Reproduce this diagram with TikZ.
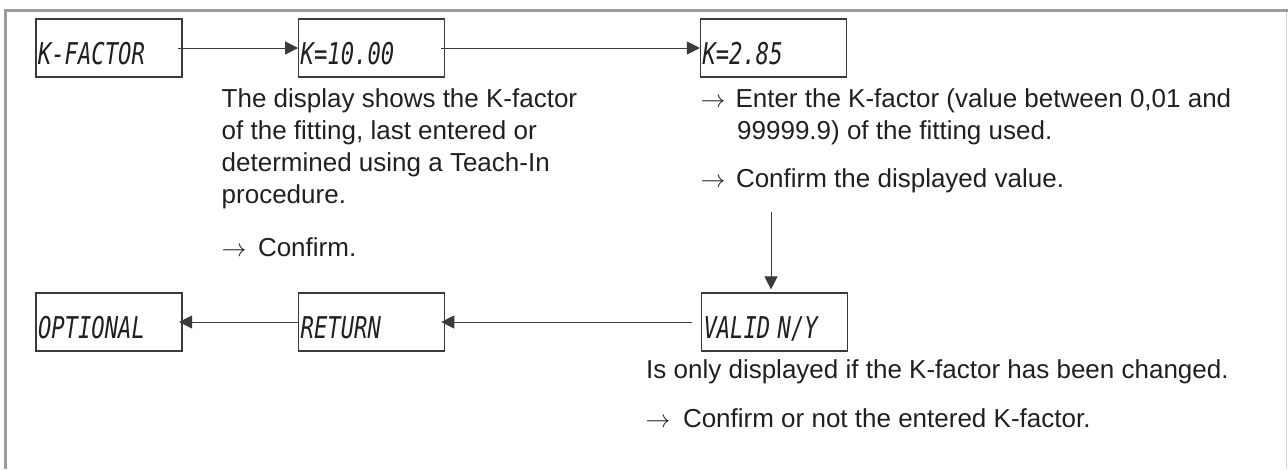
\documentclass[tikz,border=0pt]{standalone}
\usepackage{fontspec}
\setmainfont{Liberation Sans}
\newfontfamily\lcdfam{DejaVu Sans Mono}
\usetikzlibrary{arrows.meta}
\definecolor{txt}{HTML}{231F20}
\definecolor{boxc}{HTML}{3A3A3A}
\definecolor{framec}{HTML}{9C9C9C}
\definecolor{framer}{HTML}{D2D2D2}
\newcommand\lcdfont{\fontsize{30}{30}\selectfont\lcdfam\itshape}
\newcommand\lcd[1]{\scalebox{0.74}[1]{#1}}
\newcommand\bodyfont{\fontsize{26}{32}\selectfont}
\newcommand\rarr[1]{\makebox[#1][l]{$\rightarrow$}}
\tikzset{
  lcdbox/.style={draw=boxc, line width=1.2pt, minimum height=58pt,
    text width=142pt, inner xsep=2pt, inner ysep=0pt, align=left,
    text height=32pt, text depth=0pt, font=\lcdfont, text=txt},
  bodytext/.style={anchor=base west, inner sep=0pt, font=\bodyfont, text=txt},
  flow/.style={draw=boxc, line width=1pt, -{Triangle[length=13pt,width=13pt]}},
}
\begin{document}
\begin{tikzpicture}[x=1pt,y=-1pt]
\useasboundingbox (0,0) rectangle (1288,469);
% frame
\draw[framec, line width=2.8pt] (5.5,469) -- (5.5,10.7) -- (1288,10.7);
\draw[framer, line width=0.9pt] (1286.8,12) -- (1286.8,469);
% display boxes
\node[lcdbox] (kf)  at (109,48)    {\lcd{K-FACTOR}};
\node[lcdbox] (k10) at (371.7,48)  {\lcd{K=10.00}};
\node[lcdbox] (k28) at (773.5,48)  {\lcd{K=2.85}};
\node[lcdbox] (opt) at (109,322)   {\lcd{OPTIONAL}};
\node[lcdbox] (ret) at (371.7,322) {\lcd{RETURN}};
\node[lcdbox] (val) at (774.5,322) {\lcd{VALID N/Y}};
% connectors
\draw[flow] ([xshift=-5pt]kf.east) -- (k10.west);
\draw[flow] ([xshift=-4pt]k10.east) -- (k28.west);
\coordinate (vtop) at (771,212);
\draw[flow] (vtop) -- ([xshift=-3.5pt,yshift=3pt]val.north);
\draw[flow] ([xshift=-9pt]val.west) -- ([xshift=-4pt]ret.east);
\draw[flow] (ret.west) -- ([xshift=-3.5pt]opt.east);
% texts, left column
\node[bodytext] (l1) at (221.5,107.5) {The display shows the K-factor};
\node[bodytext] (l2) at (221.5,139.5) {of the fitting, last entered or};
\node[bodytext] (l3) at (221.5,171.5) {determined using a Teach-In};
\node[bodytext] (l4) at (221.5,203.5) {procedure.};
\node[bodytext] (l5) at (221.3,256) {\rarr{36.5pt}Confirm.};
% texts, right column
\node[bodytext] (r1) at (700.3,107.5) {\rarr{35pt}Enter the K-factor (value between 0,01 and};
\node[bodytext] (r2) at (737,139.5) {99999.9) of the fitting used.};
\node[bodytext] (r3) at (700.3,187) {\rarr{35.5pt}Confirm the displayed value.};
% texts, bottom
\node[bodytext] (b1) at (646,378) {Is only displayed if the K-factor has been changed.};
\node[bodytext] (b2) at (645.3,427) {\rarr{37.5pt}Confirm or not the entered K-factor.};
\end{tikzpicture}
\end{document}
